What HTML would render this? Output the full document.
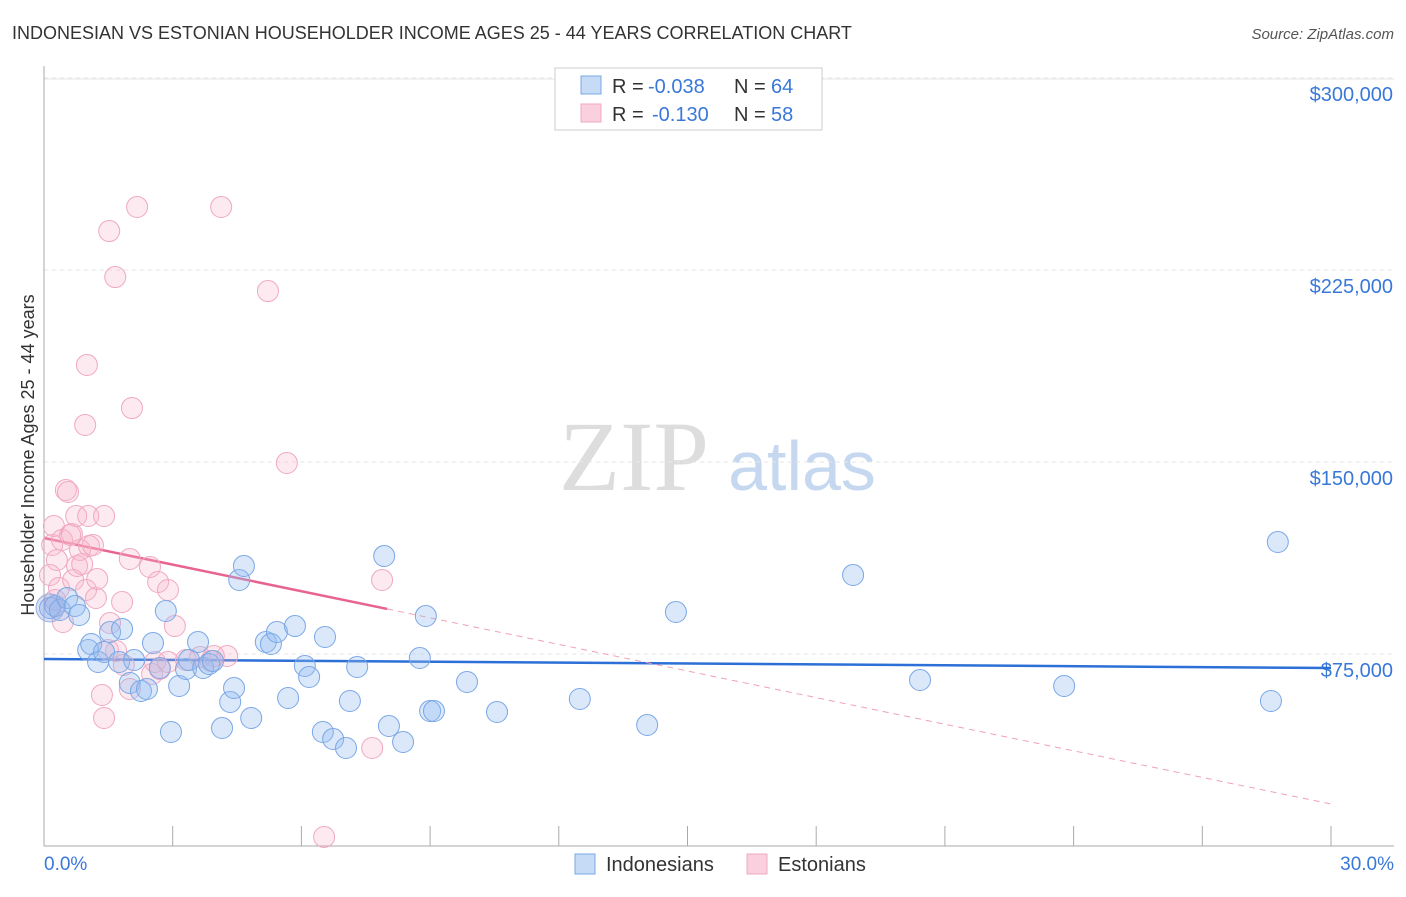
<!DOCTYPE html>
<html><head><meta charset="utf-8"><style>
body{margin:0;background:#fff;font-family:"Liberation Sans",sans-serif}
svg text{font-family:"Liberation Sans",sans-serif}
</style></head><body>
<svg id="chart" width="1406" height="892" viewBox="0 0 1406 892">
<text x="12" y="39" font-size="18" fill="#333">INDONESIAN VS ESTONIAN HOUSEHOLDER INCOME AGES 25 - 44 YEARS CORRELATION CHART</text>
<text x="1394" y="39" font-size="15" fill="#555" font-style="italic" text-anchor="end">Source: ZipAtlas.com</text>
<g>
<text x="634" y="490" font-size="100" style="font-family:'Liberation Serif',serif" fill="#ddd" text-anchor="middle">ZIP</text>
<text x="802" y="490" font-size="70" fill="#c5d8f0" text-anchor="middle">atlas</text>
</g>
<g id="grid"></g>
<g id="axes"></g>
<g id="trends"></g>
<g id="points"></g>
<text transform="translate(34,455) rotate(-90)" font-size="18" fill="#333" text-anchor="middle">Householder Income Ages 25 - 44 years</text>
<g>
<rect x="555" y="68" width="267" height="62" fill="#fff" stroke="#ccc"/>
<rect x="581" y="76" width="20" height="18" fill="#c6dbf6" stroke="#7aa7e6"/>
<rect x="581" y="104" width="20" height="18" fill="#fbd0de" stroke="#f0a8c0"/>
<text x="612" y="93" font-size="20" fill="#333">R =</text>
<text x="648" y="93" font-size="20" fill="#3a78d8">-0.038</text>
<text x="734" y="93" font-size="20" fill="#333">N =</text>
<text x="771" y="93" font-size="20" fill="#3a78d8">64</text>
<text x="612" y="121" font-size="20" fill="#333">R =</text>
<text x="652" y="121" font-size="20" fill="#3a78d8">-0.130</text>
<text x="734" y="121" font-size="20" fill="#333">N =</text>
<text x="771" y="121" font-size="20" fill="#3a78d8">58</text>
</g>
<g>
<rect x="575" y="854" width="20" height="20" fill="#c6dbf6" stroke="#7aa7e6"/>
<text x="606" y="871" font-size="20" fill="#333">Indonesians</text>
<rect x="747" y="854" width="20" height="20" fill="#fbd0de" stroke="#f0a8c0"/>
<text x="778" y="871" font-size="20" fill="#333">Estonians</text>
</g>
</svg>
<script>
const yTicks=[75000,150000,225000,300000];
const yTickLabels=["$75,000","$150,000","$225,000","$300,000"];
const xTickLabels=["0.0%","30.0%"];
const blueX=[0.14,0.26,0.37,0.54,0.72,0.82,1.03,1.10,1.26,1.40,1.54,1.75,1.82,2.00,2.10,2.26,2.40,2.54,2.70,2.84,2.96,3.15,3.31,3.38,3.59,3.71,3.85,3.94,4.15,4.34,4.43,4.55,4.66,4.83,5.17,5.29,5.43,5.69,5.85,6.08,6.18,6.50,6.55,6.74,7.04,7.13,7.30,7.93,8.04,8.37,8.76,8.90,9.00,9.09,9.86,10.56,12.49,14.06,14.73,18.86,20.42,23.78,28.60,28.76];
const blueY=[92960,93740,92180,96870,93740,90230,76560,78900,71870,75780,83590,71870,84760,63670,72650,60540,61320,79290,69530,91790,44530,62500,69140,72650,79680,69530,71090,72260,46090,56250,61710,103900,109370,50000,79680,78900,83590,57810,85930,70310,66010,44530,81640,41790,38280,56640,69920,113270,46870,40620,73430,89840,52730,52730,64060,52340,57420,47260,91400,105850,64840,62500,56640,118740];
const pinkX=[0.14,0.19,0.23,0.26,0.30,0.35,0.42,0.44,0.51,0.56,0.61,0.65,0.68,0.75,0.77,0.84,0.89,0.98,1.03,1.05,1.14,1.21,1.24,1.35,1.40,1.40,1.49,1.54,1.52,1.66,1.68,1.82,2.00,2.05,2.00,2.17,0.96,1.00,2.52,2.59,2.66,2.70,2.89,3.05,2.89,4.13,3.64,3.96,4.27,5.22,5.66,6.53,7.65,7.88,3.89,1.86,3.31,2.47];
const pinkY=[105850,117570,125000,96090,111710,100780,119530,87500,139060,138270,121480,121870,103900,128900,109370,115620,110150,100000,128900,117180,117570,96870,104290,58980,50000,128900,76560,87100,240220,222250,76170,95310,61320,171080,112100,249600,164440,187880,67180,71870,103120,69140,100000,85930,71870,249600,73820,74210,74210,216780,149600,3520,38280,103900,72260,70700,72650,108980];
const blueTrend=[73040,69530];
const pinkTrend=[120300,16400];
const pinkSolidEnd=8.0;

const NS="http://www.w3.org/2000/svg";
const X=v=>44+v*(1331-44)/30;
const Y=v=>846-v*192/75000;
function mk(tag,attrs,parent){const e=document.createElementNS(NS,tag);for(const k in attrs)e.setAttribute(k,attrs[k]);parent.appendChild(e);return e;}
const grid=document.getElementById('grid'),axes=document.getElementById('axes'),trends=document.getElementById('trends'),pts=document.getElementById('points');
yTicks.forEach((t,i)=>{
  const l=mk('line',{x1:44,x2:1394,y1:Y(t),y2:Y(t),stroke:'#e6e6e6','stroke-dasharray':'4,4'},grid);
  
  
  const tx=mk('text',{x:1393,y:Y(t)+23,'font-size':20,fill:'#3a78d8','text-anchor':'end'},axes);
  tx.textContent=yTickLabels[i];
  
  
});
const topGrid=mk('line',{x1:44,x2:1394,y1:79,y2:79,stroke:'#e6e6e6'},grid);


const ya=mk('line',{x1:44,x2:44,y1:66,y2:846,stroke:'#aaa'},axes);


const xa=mk('line',{x1:44,x2:1394,y1:846,y2:846,stroke:'#aaa'},axes);


for(let i=0;i<=10;i++){const x=X(i*3);const t=mk('line',{x1:x,x2:x,y1:826,y2:846,stroke:'#aaa'},axes);
  
  }
[[0,44,'start'],[30,1394,'end']].forEach((a,i)=>{const t=mk('text',{x:a[1],y:870,'font-size':19,fill:'#3a78d8','text-anchor':a[2]},axes);t.textContent=xTickLabels[i];
  
  });
function dots(xs,ys,fill,stroke,name){xs.forEach((v,i)=>{const c=mk('circle',{cx:X(v),cy:Y(ys[i]),r:10.5,fill:fill,stroke:stroke,'stroke-width':1},pts);
  
  });}
dots(pinkX,pinkY,'rgba(248,180,202,0.28)','#f0a8c0','estonian-point');
dots(blueX,blueY,'rgba(150,190,240,0.35)','#7aa7e6','indonesian-point');
const big=mk('circle',{cx:X(0.14),cy:Y(93000),r:14,fill:'rgba(140,165,225,0.35)',stroke:'#9ab2e0'},pts);


const bl=mk('line',{x1:X(0),x2:X(30),y1:Y(blueTrend[0]),y2:Y(blueTrend[1]),stroke:'#2c6fd6','stroke-width':2.5},trends);


const py=x=>pinkTrend[0]+(pinkTrend[1]-pinkTrend[0])*x/30;
const ps=mk('line',{x1:X(0),x2:X(pinkSolidEnd),y1:Y(py(0)),y2:Y(py(pinkSolidEnd)),stroke:'#e8648f','stroke-width':2.5},trends);


const pd=mk('line',{x1:X(pinkSolidEnd),x2:X(30),y1:Y(py(pinkSolidEnd)),y2:Y(py(30)),stroke:'#f0a0b8','stroke-width':1,'stroke-dasharray':'6,5'},trends);


</script>
</body></html>
